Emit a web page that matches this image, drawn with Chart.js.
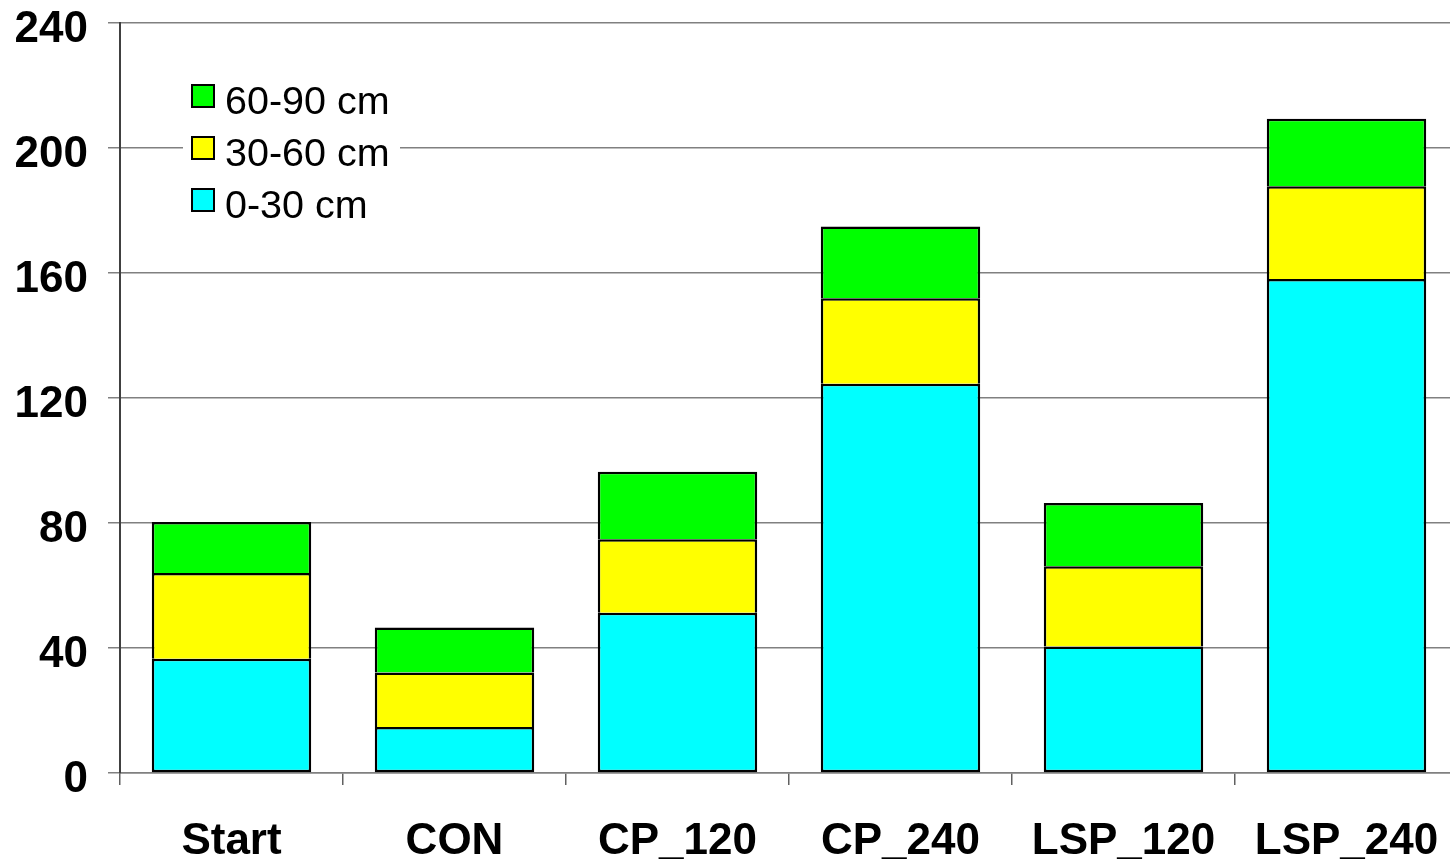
<!DOCTYPE html>
<html>
<head>
<meta charset="utf-8">
<script src="https://cdn.jsdelivr.net/npm/chart.js@4/dist/chart.umd.min.js"></script>
<style>
  html, body { margin: 0; padding: 0; background: #fff; overflow: hidden; }
  #wrap { position: relative; width: 1458px; height: 862px; }
</style>
</head>
<body>
<div id="wrap"><canvas id="soilChart"></canvas></div>
<script>
// categories and stacked segment values
const categories = ['Start', 'CON', 'CP_120', 'CP_240', 'LSP_120', 'LSP_240'];
const layer0_30 = [36.6, 14.7, 51.3, 124.6, 40.5, 158.1];
const layer30_60 = [27.4, 17.5, 23.5, 27.3, 25.7, 29.7];
const layer60_90 = [16.3, 14.4, 21.6, 23.0, 20.2, 21.6];
const yTicks = [0, 40, 80, 120, 160, 200, 240];

const FONT = "'Liberation Sans', Arial, sans-serif";
const GRID = '#808080';
const sideBorder = { top: 2.5, left: 2.5, right: 2.5, bottom: 0 };

// legend drawn inside the plot, top-left, reversed order
const insideLegend = {
    id: 'insideLegend',
    afterDraw(chart) {
        const ctx = chart.ctx;
        ctx.save();
        ctx.fillStyle = '#fff';
        ctx.fillRect(183, 76, 217, 150);
        const sets = chart.data.datasets.slice().reverse();
        sets.forEach((ds, i) => {
            const top = 85 + i * 52;
            ctx.fillStyle = ds.backgroundColor;
            ctx.fillRect(192, top, 22, 22);
            ctx.strokeStyle = '#000';
            ctx.lineWidth = 2;
            ctx.strokeRect(192, top, 22, 22);
            ctx.fillStyle = '#000';
            ctx.font = '39.5px ' + FONT;
            ctx.textBaseline = 'alphabetic';
            ctx.textAlign = 'left';
            ctx.fillText(ds.label, 225, top + 29);
        });
        ctx.restore();
    }
};

const ctx = document.getElementById('soilChart').getContext('2d');
new Chart(ctx, {
    type: 'bar',
    data: {
        labels: categories,
        datasets: [
            { label: '0-30 cm', data: layer0_30, backgroundColor: '#00FFFF', borderWidth: { top: 2.5, left: 2.5, right: 2.5, bottom: 2.5 } },
            { label: '30-60 cm', data: layer30_60, backgroundColor: '#FFFF00', borderWidth: sideBorder },
            { label: '60-90 cm', data: layer60_90, backgroundColor: '#00FF00', borderWidth: sideBorder }
        ]
    },
    options: {
        responsive: true,
        maintainAspectRatio: false,
        animation: false,
        layout: { padding: { top: 23 } },
        datasets: {
            bar: { borderColor: '#000', borderSkipped: false, categoryPercentage: 1, barPercentage: 0.715 }
        },
        plugins: { legend: { display: false }, tooltip: { enabled: false } },
        scales: {
            x: {
                stacked: true,
                grid: { offset: true, drawOnChartArea: false, drawTicks: true, tickLength: 12, color: '#606060', lineWidth: 1.5 },
                border: { color: GRID, width: 1.5 },
                ticks: { color: '#000', padding: 35, font: { family: FONT, size: 44, weight: 'bold', lineHeight: 1 } },
                afterFit(s) { s.height = 89; s.paddingLeft = 0; s.paddingRight = 0; }
            },
            y: {
                stacked: true,
                min: 0,
                max: 240,
                afterBuildTicks(s) { s.ticks = yTicks.map(v => ({ value: v })); },
                grid: { color: GRID, lineWidth: 1.5, tickLength: 12 },
                border: { color: '#404040', width: 2 },
                ticks: { color: '#000', padding: 20, labelOffset: 7, font: { family: FONT, size: 44, weight: 'bold', lineHeight: 1 } },
                afterFit(s) { s.width = 120; s.paddingTop = 0; s.paddingBottom = 0; }
            }
        }
    },
    plugins: [insideLegend]
});
</script>
</body>
</html>
